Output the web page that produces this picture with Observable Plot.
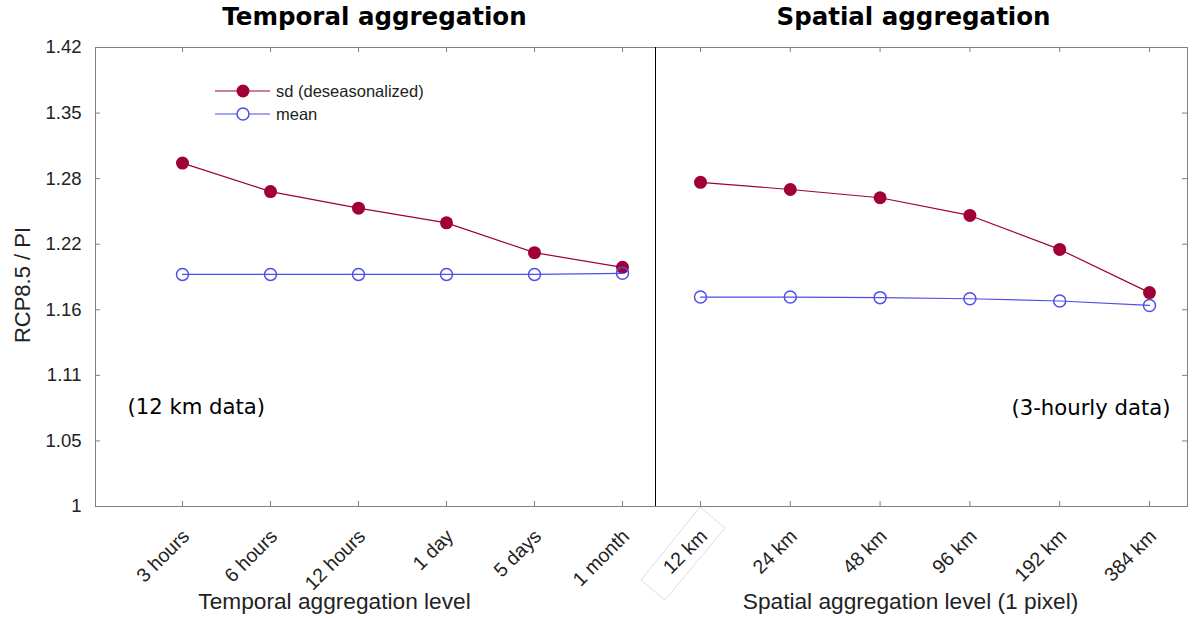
<!DOCTYPE html>
<html><head><meta charset="utf-8">
<script src="https://cdn.jsdelivr.net/npm/d3@7"></script>
<script src="https://cdn.jsdelivr.net/npm/@observablehq/plot@0.6"></script>
<style>
body{margin:0;background:#fff;}
#wrap{position:relative;width:1192px;height:619px;}
#wrap svg{position:absolute;top:0;overflow:visible;}
</style></head><body><div id="wrap"></div>
<script>
// ---- data ----
const temporalLevels = ["3 hours","6 hours","12 hours","1 day","5 days","1 month"];
const temporalSd     = [1.300, 1.272, 1.256, 1.242, 1.214, 1.2005];
const temporalMean   = [1.194, 1.194, 1.194, 1.194, 1.194, 1.195];
const spatialLevels  = ["12 km","24 km","48 km","96 km","192 km","384 km"];
const spatialSd      = [1.281, 1.274, 1.266, 1.249, 1.217, 1.1775];
const spatialMean    = [1.1735, 1.1735, 1.173, 1.172, 1.170, 1.166];
const yTickLabels    = ["1","1.05","1.11","1.16","1.22","1.28","1.35","1.42"];
const yMin = 1, yMax = 1.42;
const titles = ["Temporal aggregation","Spatial aggregation"];
const axisTitles = ["Temporal aggregation level","Spatial aggregation level (1 pixel)"];
const notes = ["(12 km data)","(3-hourly data)"];
const seriesNames = ["sd (deseasonalized)","mean"];
// ---- end data ----

const sdColor = "#a10034", meanColor = "#4f4fe8", frameColor = "#808080", textColor = "#222";
const yTickValues = yTickLabels.map((_, k) => Math.pow(yMax, k / (yTickLabels.length - 1)));
const yTicks = yTickLabels.map((label, k) => ({v: yTickValues[k], label}));
const sans = "Liberation Sans, Arial, Helvetica, sans-serif";
const dejavu = "DejaVu Sans, sans-serif";
const H = 619, MT = 47, MB = 113, innerH = H - MT - MB;

function rows(levels, sd, mean) {
  return levels.map((label, i) => ({i, label, sd: sd[i], mean: mean[i]}));
}

function panel({data, width, marginLeft, marginRight, domain, title, titleDx, axisTitle, axisDx, note, noteLeft, side}) {
  const innerW = width - marginLeft - marginRight;
  const idx = data.map(d => d.i);
  const marks = [
    Plot.frame({stroke: frameColor}),
    Plot.tickX(idx, {x: d => d, stroke: frameColor, insetBottom: innerH - 5}),
    Plot.tickX(idx, {x: d => d, stroke: frameColor, insetTop: innerH - 5}),
    side === "left"
      ? Plot.tickY(yTickValues, {y: d => d, stroke: frameColor, insetRight: innerW - 5})
      : Plot.tickY(yTickValues, {y: d => d, stroke: frameColor, insetLeft: innerW - 5}),
    side === "left"
      ? Plot.ruleX([domain[1]], {stroke: "#000"})
      : Plot.ruleX([domain[0]], {stroke: "#000"}),
    Plot.line(data, {x: "i", y: "sd", stroke: sdColor, strokeWidth: 1.2}),
    Plot.dot(data, {x: "i", y: "sd", r: 6.5, fill: sdColor, stroke: "none"}),
    Plot.line(data, {x: "i", y: "mean", stroke: meanColor, strokeWidth: 1.2}),
    Plot.dot(data, {x: "i", y: "mean", r: 6, fill: "none", stroke: meanColor, strokeWidth: 1.5}),
    Plot.text(data, {x: "i", text: "label", frameAnchor: "bottom", dx: 8, dy: 31, rotate: -45,
      textAnchor: "end", lineAnchor: "bottom", fontSize: 19.5, fill: textColor}),
    Plot.text([title], {frameAnchor: "top", dx: titleDx, dy: -23, lineAnchor: "bottom", textAnchor: "middle",
      fontFamily: dejavu, fontWeight: "bold", fontSize: 24.5, fill: "#000"}),
    Plot.text([axisTitle], {frameAnchor: "bottom", dx: axisDx, dy: 102, lineAnchor: "bottom", textAnchor: "middle",
      fontSize: 22.7, fill: textColor}),
    noteLeft
      ? Plot.text([note], {frameAnchor: "bottom-left", dx: 32, dy: -93, textAnchor: "start",
          lineAnchor: "bottom", fontFamily: dejavu, fontSize: 21.2, fill: "#000"})
      : Plot.text([note], {frameAnchor: "bottom-right", dx: -17, dy: -92, textAnchor: "end",
          lineAnchor: "bottom", fontFamily: dejavu, fontSize: 21.2, fill: "#000"})
  ];
  if (side === "left") {
    marks.push(
      Plot.text(yTicks, {y: "v", text: "label", frameAnchor: "left", dx: -14, textAnchor: "end",
        lineAnchor: "middle", fontSize: 18.5, fill: textColor}),
      Plot.text(["RCP8.5 / PI"], {frameAnchor: "left", dx: -73, dy: 8, rotate: -90,
        textAnchor: "middle", lineAnchor: "middle", fontSize: 22, fill: textColor})
    );
  }
  return Plot.plot({
    width, height: H, marginTop: MT, marginBottom: MB, marginLeft, marginRight,
    style: {fontFamily: sans, background: "transparent", overflow: "visible"},
    x: {type: "linear", domain, axis: null},
    y: {type: "log", domain: [yMin, yMax], axis: null},
    marks
  });
}

const wrap = document.getElementById("wrap");
const left = panel({
  data: rows(temporalLevels, temporalSd, temporalMean),
  width: 656, marginLeft: 95, marginRight: 1, domain: [-87/88, 473/88],
  title: titles[0], titleDx: -1, axisTitle: axisTitles[0], axisDx: -41,
  note: notes[0], noteLeft: true, side: "left"
});
left.style.left = "0px";
wrap.appendChild(left);

const right = panel({
  data: rows(spatialLevels, spatialSd, spatialMean),
  width: 537, marginLeft: 0, marginRight: 5, domain: [-45/89.8, 487/89.8],
  title: titles[1], titleDx: -8, axisTitle: axisTitles[1], axisDx: -11,
  note: notes[1], noteLeft: false, side: "right"
});
right.style.left = "655px";
wrap.appendChild(right);

// faint selection box around the first spatial tick label (as in the reference)
d3.select(right).append("polygon")
  .attr("points", "45,507 70,528 10,600 -14,580")
  .attr("fill", "none").attr("stroke", "#d4d4d4").attr("stroke-width", 0.8);

// legend inside the left panel
const lg = d3.select(left).append("g").attr("font-family", sans).attr("font-size", 16.5)
  .attr("text-anchor", "start");
const legendItems = [
  {name: seriesNames[0], color: sdColor, filled: true, y: 91},
  {name: seriesNames[1], color: meanColor, filled: false, y: 114}
];
legendItems.forEach(it => {
  lg.append("line").attr("x1", 215).attr("x2", 270).attr("y1", it.y).attr("y2", it.y)
    .attr("stroke", it.color).attr("stroke-width", 1.2);
  lg.append("circle").attr("cx", 243).attr("cy", it.y).attr("r", it.filled ? 6.5 : 6)
    .attr("fill", it.filled ? it.color : "white").attr("stroke", it.filled ? "none" : it.color)
    .attr("stroke-width", 1.5);
  lg.append("text").attr("x", 276).attr("y", it.y).attr("dy", "0.35em").attr("fill", textColor)
    .attr("text-anchor", "start").text(it.name);
});
</script></body></html>
